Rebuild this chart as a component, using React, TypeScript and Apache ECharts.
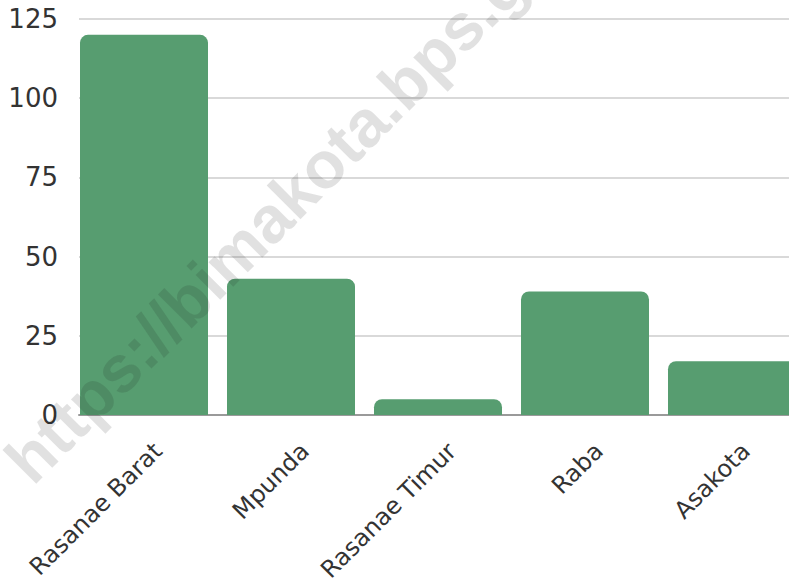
import React, { useEffect, useRef } from "react";
import * as echarts from "echarts";

const categories = ["Rasanae Barat", "Mpunda", "Rasanae Timur", "Raba", "Asakota"];
const values = [120, 43, 5, 39, 17];
const yMin = 0;
const yMax = 125;
const yInterval = 25;
const watermarkText = "https://bimakota.bps.go.id";

const FONT = "'DejaVu Sans', sans-serif";

export default function App() {
  const ref = useRef<HTMLDivElement>(null);
  useEffect(() => {
    if (!ref.current) return;
    const chart = echarts.init(ref.current, null, { renderer: "svg" });
    const top = 19;
    const height = 396;
    chart.setOption({
      animation: false,
      backgroundColor: "#ffffff",
      grid: [
        { left: 70.5, width: 735, top, height, outerBoundsMode: "none", containLabel: false },
        { left: 79, right: 0, top, height, outerBoundsMode: "none", containLabel: false },
        { left: 84.5, width: 735, top, height, outerBoundsMode: "none", containLabel: false },
      ],
      xAxis: [
        {
          gridIndex: 0,
          type: "category",
          data: categories,
          axisLine: { show: false },
          axisTick: { show: false },
          axisLabel: { show: false },
          splitLine: { show: false },
        },
        {
          gridIndex: 1,
          type: "value",
          min: 0,
          max: 1,
          axisLine: { show: true, onZero: false, lineStyle: { color: "#9a9a9a", width: 2 } },
          axisTick: { show: false },
          axisLabel: { show: false },
          splitLine: { show: false },
        },
        {
          gridIndex: 2,
          type: "category",
          data: categories,
          axisLine: { show: false },
          axisTick: { show: false },
          axisLabel: {
            show: true,
            rotate: 45,
            margin: 32,
            interval: 0,
            color: "#333333",
            fontFamily: FONT,
            fontSize: 24,
          },
          splitLine: { show: false },
        },
      ],
      yAxis: [
        {
          gridIndex: 0,
          type: "value",
          min: yMin,
          max: yMax,
          interval: yInterval,
          axisLine: { show: false },
          axisTick: { show: false },
          axisLabel: { show: false },
          splitLine: { show: false },
        },
        {
          gridIndex: 1,
          type: "value",
          min: yMin,
          max: yMax,
          interval: yInterval,
          axisLine: { show: false },
          axisTick: { show: false },
          axisLabel: {
            show: true,
            margin: 21,
            color: "#333333",
            fontFamily: FONT,
            fontSize: 26,
          },
          splitLine: { show: true, lineStyle: { color: "#cccccc", width: 1.5 } },
        },
        {
          gridIndex: 2,
          type: "value",
          min: yMin,
          max: yMax,
          show: false,
        },
      ],
      series: [
        {
          type: "bar",
          xAxisIndex: 0,
          yAxisIndex: 0,
          data: values,
          barWidth: 128,
          itemStyle: { color: "#579d70", borderRadius: [8, 8, 0, 0] },
          z: 2,
        },
      ],
      graphic: [
        {
          type: "text",
          x: 40,
          y: 494,
          rotation: Math.PI / 4,
          z: 100,
          silent: true,
          style: {
            text: watermarkText,
            fill: "rgba(26,26,26,0.13)",
            font: "bold 66px 'Liberation Sans', Arial, sans-serif",
            textAlign: "left",
            textVerticalAlign: "bottom",
          },
        },
      ],
    });
    return () => chart.dispose();
  }, []);
  return (
    <div
      ref={ref}
      style={{ position: "fixed", left: 0, top: 0, width: 789, height: 585 }}
    />
  );
}
